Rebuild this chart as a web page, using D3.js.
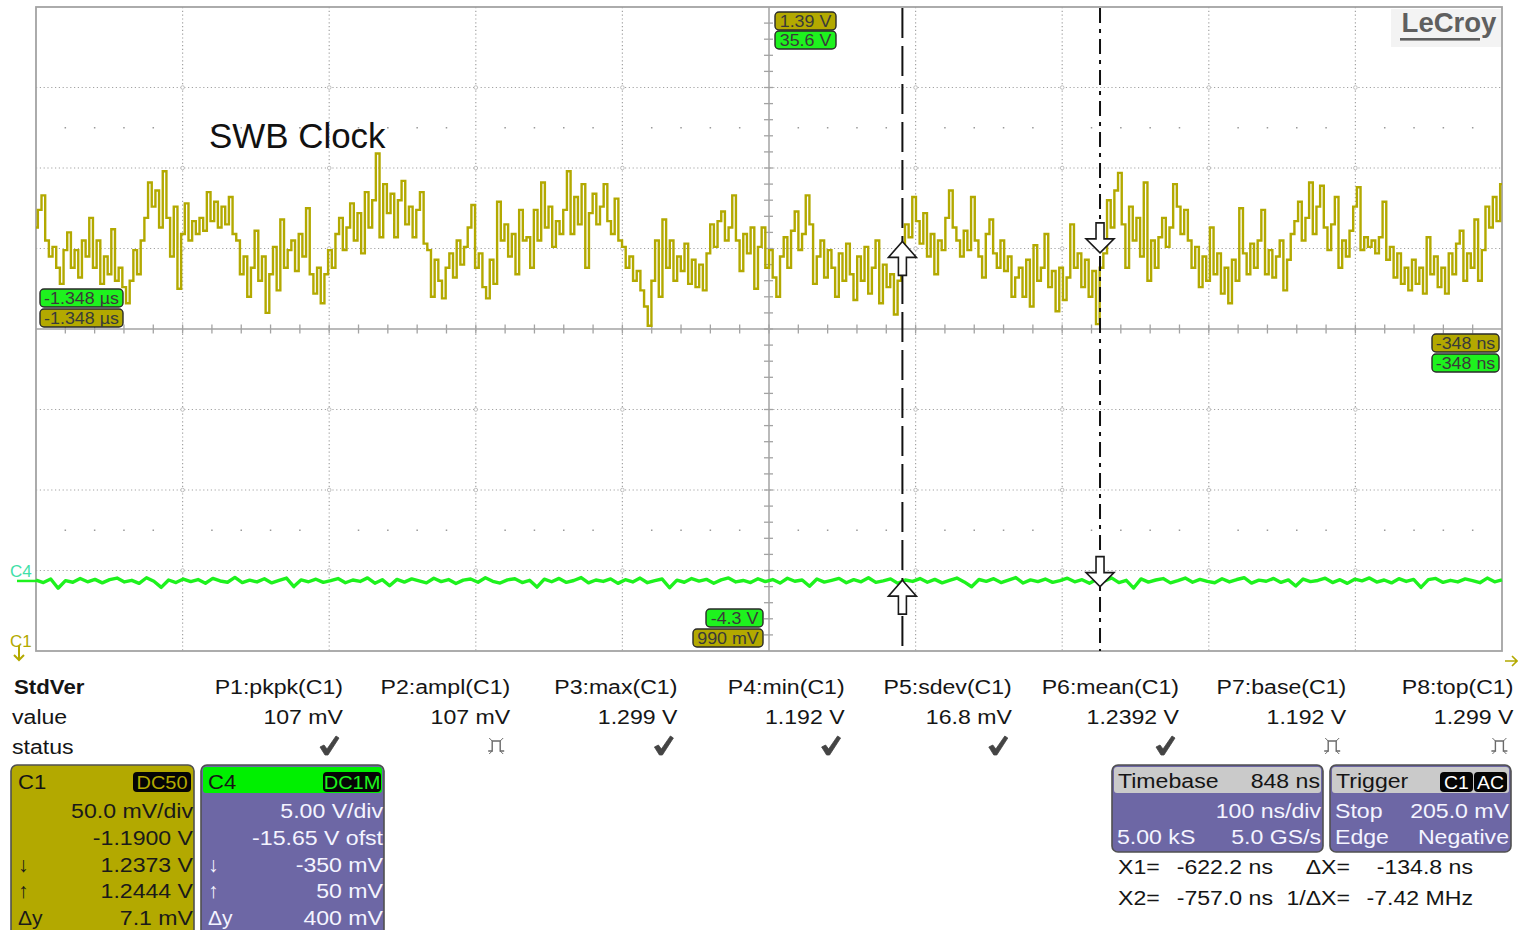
<!DOCTYPE html>
<html>
<head>
<meta charset="utf-8">
<script src="https://cdn.jsdelivr.net/npm/d3@7"></script>
<style>
  html, body { margin: 0; padding: 0; background: #fff; }
  svg { display: block; font-family: "Liberation Sans", Arial, sans-serif; }
</style>
</head>
<body>
<svg id="scope" width="1518" height="930"></svg>
<script>
// ---------- acquisition settings ----------
const timeWindow = [-1348, -348];      // ns at left / right edge of the graticule
const timePerDiv = 100;                // ns/div
const c1Setup = { perDiv: 50, center: 1190 };   // mV/div, mV at screen centre
const c4Setup = { perDiv: 5, center: 15.65 };   // V/div,  V at screen centre

// ---------- C1 record (mV), SWB clock ----------
const c1Millivolts = [
  1253,1264,1273,1245,1235,1241,1228,1218,1239,1250,
  1228,1239,1222,1245,1235,1259,1228,1245,1218,1235,
  1224,1252,1220,1228,1216,1206,1220,1239,1224,1245,
  1259,1281,1266,1276,1253,1288,1259,1235,1266,1215,
  1249,1268,1245,1257,1249,1259,1251,1275,1257,1269,
  1253,1266,1255,1272,1249,1245,1224,1235,1210,1228,
  1251,1220,1235,1200,1224,1241,1214,1258,1228,1239,
  1245,1226,1249,1235,1265,1224,1212,1228,1206,1224,
  1239,1228,1249,1259,1239,1253,1268,1245,1262,1237,
  1275,1253,1270,1299,1247,1280,1262,1274,1247,1270,
  1282,1255,1266,1247,1264,1275,1243,1239,1210,1233,
  1220,1209,1228,1237,1222,1245,1230,1241,1253,1267,
  1228,1237,1216,1209,1233,1218,1269,1245,1255,1235,
  1249,1224,1264,1245,
  1247,1228,1264,1245,1281,1253,1266,1241,1257,1249,
  1264,1288,1249,1272,1255,1280,1228,1262,1274,1255,
  1266,1280,1257,1249,1271,1245,1241,1228,1235,1220,
  1226,1214,1204,1192,1220,1245,1210,1258,1228,1245,
  1220,1235,1226,1243,1218,1233,1216,1230,1214,1237,
  1255,1241,1257,1263,1245,1253,1273,1245,1226,1249,
  1237,1253,1215,1241,1253,1228,1239,1222,1210,1235,
  1247,1228,1251,1263,1239,1249,1273,1255,1218,1235,
  1245,1222,1239,1228,1210,1237,1220,1243,1224,1208,
  1235,1220,1241,1212,1228,1245,1206,1230,1216,1224,
  1199,1220,1228,1255,1247,1272,1257,1243,1262,1235,
  1249,1224,1245,1239,1259,1276,1253,1245,1235,1251,
  1239,1272,1245,1235,1222,1249,1258,1237,1228,1245,
  1226,1235,1210,
  1222,1228,1210,1233,1204,1242,1220,1228,1249,1216,
  1226,1201,1228,1208,1222,1255,1228,1237,1216,1233,
  1210,1226,1193,1228,1237,1270,1253,1276,1287,1255,
  1228,1266,1245,1259,1235,1281,1220,1245,1228,1247,
  1259,1241,1253,1280,1266,1249,1264,1245,1228,1241,
  1216,1235,1220,1253,1224,1237,1212,1228,1206,1233,
  1220,1265,1237,1224,1243,1228,1245,1264,1224,1239,
  1222,1235,1245,1214,1233,1249,1257,1269,1245,1259,
  1281,1249,1266,1279,1253,1239,1255,1272,1228,1245,
  1235,1251,1266,1278,1239,1247,1241,1245,1237,1247,
  1269,1233,1241,1222,1237,1218,1228,1214,1233,1218,
  1228,1212,1247,1224,1235,1216,1228,1212,1237,1224,
  1243,1251,1220,1237,1228,1258,1220,1239,1266,1253,
  1272,1257,1280
];

// ---------- C4 record (V) ----------
const c4Volts = [
  0.05,-0.10,0.12,-0.45,0.02,-0.08,0.15,-0.05,0.10,-0.12,0.08,0.18,-0.06,0.04,-0.15,0.20,-0.02,-0.40,0.06,-0.10,
  0.12,-0.04,0.09,-0.14,0.16,0.00,-0.08,0.22,-0.10,0.05,-0.06,0.14,-0.12,0.03,0.18,-0.35,0.07,-0.05,0.11,-0.09,
  0.02,0.15,-0.11,0.06,-0.03,0.19,-0.14,0.08,-0.30,0.10,-0.07,0.13,0.01,-0.12,0.17,-0.04,0.09,-0.16,0.05,0.12,
  -0.08,0.20,-0.02,-0.13,0.07,0.14,-0.10,0.04,-0.38,0.11,-0.05,0.16,-0.09,0.03,0.21,-0.12,0.06,-0.03,0.13,-0.15,
  0.08,-0.06,0.18,-0.11,0.02,0.12,-0.42,0.05,-0.08,0.15,-0.01,0.10,-0.14,0.07,0.19,-0.06,0.03,-0.10,0.14,-0.04,
  0.09,-0.13,0.17,-0.02,0.06,-0.33,0.12,-0.07,0.04,0.16,-0.11,0.08,-0.05,0.20,-0.09,0.01,0.13,-0.15,0.06,-0.03,
  0.15,-0.08,0.10,-0.12,0.03,0.18,-0.06,-0.36,0.09,-0.02,0.14,-0.10,0.05,0.21,-0.13,0.07,-0.04,0.12,-0.09,0.02,
  0.17,-0.05,0.08,-0.14,0.11,-0.01,0.19,-0.10,0.04,-0.44,0.13,-0.07,0.06,0.15,-0.12,0.02,0.18,-0.08,0.10,-0.03,
  -0.11,0.14,-0.06,0.09,0.20,-0.13,0.05,-0.02,0.16,-0.09,0.07,-0.31,0.12,-0.04,0.03,0.17,-0.10,0.08,-0.15,0.11,
  0.01,0.19,-0.07,0.06,-0.12,0.14,-0.03,0.10,-0.40,0.08,0.16,-0.09,0.04,-0.06,0.13,0.02,-0.11,0.18,-0.05,0.07
];

// ---------- cursors ----------
const cursorTimes = { x1: -622.2, x2: -757.0 };      // ns
const cursorC1 = { x1: 1237.3, x2: 1244.4 };         // mV
const cursorC4 = { x1: -0.35, x2: 0.05 };            // V

// ---------- measurement table ----------
const paramNames  = ["P1:pkpk(C1)", "P2:ampl(C1)", "P3:max(C1)", "P4:min(C1)", "P5:sdev(C1)", "P6:mean(C1)", "P7:base(C1)", "P8:top(C1)"];
const paramValues = ["107 mV", "107 mV", "1.299 V", "1.192 V", "16.8 mV", "1.2392 V", "1.192 V", "1.299 V"];
const paramStatus = ["ok", "pulse", "ok", "ok", "ok", "ok", "pulse", "pulse"];

// ---------- channel / timebase descriptors ----------
const c1PanelRows = [["", "50.0 mV/div"], ["", "-1.1900 V"], ["↓", "1.2373 V"], ["↑", "1.2444 V"], ["Δy", "7.1 mV"]];
const c4PanelRows = [["", "5.00 V/div"], ["", "-15.65 V ofst"], ["↓", "-350 mV"], ["↑", "50 mV"], ["Δy", "400 mV"]];
const timebaseRows = [["", "100 ns/div"], ["5.00 kS", "5.0 GS/s"]];
const triggerRows  = [["Stop", "205.0 mV"], ["Edge", "Negative"]];
const cursorReadout = [["X1=", "-622.2 ns", "ΔX=", "-134.8 ns"], ["X2=", "-757.0 ns", "1/ΔX=", "-7.42 MHz"]];

// ---------- colours ----------
const OLIVE = "#b3a900", GREEN = "#1ef21e", PURPLE = "#6d67a5", GRID = "#a3a3a3";

const svg = d3.select("#scope");
const plot = { left: 36, right: 1502, top: 7, bottom: 651 };

const x = d3.scaleLinear().domain(timeWindow).range([plot.left, plot.right]);
const yC1 = d3.scaleLinear()
  .domain([c1Setup.center - 4 * c1Setup.perDiv, c1Setup.center + 4 * c1Setup.perDiv])
  .range([plot.bottom, plot.top]);
const yC4 = d3.scaleLinear()
  .domain([c4Setup.center - 4 * c4Setup.perDiv, c4Setup.center + 4 * c4Setup.perDiv])
  .range([plot.bottom, plot.top]);

// text helper: slightly widened sans to match the instrument font
function txt(g, px, py, s, o = {}) {
  const t = g.append("text")
    .attr("transform", `translate(${px},${py}) scale(${o.sx ?? 1.1},1)`)
    .attr("text-anchor", o.anchor || "start")
    .attr("font-size", o.size || 21)
    .attr("font-weight", o.weight || "normal")
    .attr("fill", o.fill || "#151515")
    .text(s);
  if (o.family) t.attr("font-family", o.family);
  return t;
}

// ---------- graticule ----------
const grid = svg.append("g");
const divTimes = d3.range(1, 10).map(k => timeWindow[0] + k * timePerDiv);
const centerTime = timeWindow[0] + 5 * timePerDiv;
const divLevels = d3.range(-3, 4).map(j => c1Setup.center + j * c1Setup.perDiv);

grid.selectAll("line.v").data(divTimes.filter(t => t !== centerTime)).join("line")
  .attr("x1", d => x(d)).attr("x2", d => x(d))
  .attr("y1", plot.top).attr("y2", plot.bottom)
  .attr("stroke", GRID).attr("stroke-width", 1.2).attr("stroke-dasharray", "1.2,2.6");
grid.selectAll("line.h").data(divLevels.filter(v => v !== c1Setup.center)).join("line")
  .attr("x1", plot.left).attr("x2", plot.right)
  .attr("y1", d => yC1(d)).attr("y2", d => yC1(d))
  .attr("stroke", GRID).attr("stroke-width", 1.2).attr("stroke-dasharray", "1.2,2.6");

// rows of sub-division dots
const subTimes = d3.range(1, 50).map(k => timeWindow[0] + k * timePerDiv / 5).filter((t, i) => (i + 1) % 5 !== 0);
[c1Setup.center + 2.5 * c1Setup.perDiv, c1Setup.center - 2.5 * c1Setup.perDiv].forEach(v => {
  grid.append("g").selectAll("rect").data(subTimes).join("rect")
    .attr("x", d => x(d) - 0.75).attr("y", yC1(v) - 0.75)
    .attr("width", 1.5).attr("height", 1.5).attr("fill", "#9a9a9a");
});

// small circles at graticule crossings
const crossings = [];
divTimes.filter(t => t !== centerTime).forEach(t =>
  divLevels.filter(v => v !== c1Setup.center).forEach(v => crossings.push([t, v])));
grid.selectAll("circle").data(crossings).join("circle")
  .attr("cx", d => x(d[0])).attr("cy", d => yC1(d[1])).attr("r", 1.8)
  .attr("fill", "#fff").attr("stroke", "#b0b0b0").attr("stroke-width", 0.8);

// centre axes with minor ticks
grid.append("line").attr("x1", plot.left).attr("x2", plot.right)
  .attr("y1", yC1(c1Setup.center)).attr("y2", yC1(c1Setup.center))
  .attr("stroke", GRID).attr("stroke-width", 1.5);
grid.append("line").attr("x1", x(centerTime)).attr("x2", x(centerTime))
  .attr("y1", plot.top).attr("y2", plot.bottom)
  .attr("stroke", GRID).attr("stroke-width", 1.5);
const hTicks = d3.range(1, 50).map(k => timeWindow[0] + k * timePerDiv / 5);
grid.append("g").selectAll("line").data(hTicks).join("line")
  .attr("x1", d => x(d)).attr("x2", d => x(d))
  .attr("y1", yC1(c1Setup.center) - 4.5).attr("y2", yC1(c1Setup.center) + 4.5)
  .attr("stroke", GRID).attr("stroke-width", 1.3);
const vTicks = d3.range(1, 40).map(k => yC1.domain()[0] + k * c1Setup.perDiv / 5);
grid.append("g").selectAll("line").data(vTicks).join("line")
  .attr("x1", x(centerTime) - 5).attr("x2", x(centerTime) + 4)
  .attr("y1", d => yC1(d)).attr("y2", d => yC1(d))
  .attr("stroke", GRID).attr("stroke-width", 1.3);

// frame
svg.append("rect").attr("x", plot.left).attr("y", plot.top)
  .attr("width", plot.right - plot.left).attr("height", plot.bottom - plot.top)
  .attr("fill", "none").attr("stroke", GRID).attr("stroke-width", 1.8);

// LeCroy mark
svg.append("rect").attr("x", 1391).attr("y", 9).attr("width", 110).attr("height", 38).attr("fill", "#f3f3f3");
txt(svg, 1449, 32, "LeCroy", { anchor: "middle", size: 27, weight: "bold", fill: "#5f5f5f", sx: 1.02 });
svg.append("rect").attr("x", 1400).attr("y", 38).attr("width", 80).attr("height", 2.6).attr("fill", "#5f5f5f");

// ---------- traces ----------
const c1Step = (timeWindow[1] - timeWindow[0]) / (c1Millivolts.length - 1);
const c4Step = (timeWindow[1] - timeWindow[0]) / (c4Volts.length - 1);

svg.append("path")
  .datum(c4Volts)
  .attr("fill", "none").attr("stroke", GREEN).attr("stroke-width", 3.4)
  .attr("stroke-linejoin", "round")
  .attr("d", d3.line()
    .x((d, i) => x(timeWindow[0] + i * c4Step)).y(d => yC4(d)));

svg.append("path")
  .datum(c1Millivolts)
  .attr("fill", "none").attr("stroke", OLIVE).attr("stroke-width", 2.4)
  .attr("d", d3.line().curve(d3.curveStep)
    .x((d, i) => x(timeWindow[0] + i * c1Step)).y(d => yC1(d)));

// ground markers at the left edge
txt(svg, 10, 577, "C4", { size: 17, fill: "#3fe0a8", sx: 1 });
svg.append("line").attr("x1", 17).attr("x2", plot.left).attr("y1", yC4(0)).attr("y2", yC4(0))
  .attr("stroke", GREEN).attr("stroke-width", 2.5);
txt(svg, 10, 647, "C1", { size: 17, fill: OLIVE, sx: 1 });
svg.append("path").attr("d", "M19,646 V660 M14,655 L19,660 L24,655")
  .attr("fill", "none").attr("stroke", OLIVE).attr("stroke-width", 2);
svg.append("path").attr("d", "M1505,661 H1517 M1512,656 L1517,661 L1512,666")
  .attr("fill", "none").attr("stroke", OLIVE).attr("stroke-width", 1.6);

// ---------- cursors ----------
const xc1 = x(cursorTimes.x1), xc2 = x(cursorTimes.x2);
svg.append("line").attr("x1", xc2).attr("x2", xc2).attr("y1", plot.top + 1).attr("y2", plot.bottom)
  .attr("stroke", "#111").attr("stroke-width", 2).attr("stroke-dasharray", "30,8");
svg.append("line").attr("x1", xc1).attr("x2", xc1).attr("y1", plot.top + 1).attr("y2", plot.bottom)
  .attr("stroke", "#111").attr("stroke-width", 2).attr("stroke-dasharray", "15,6,4,6");

const upArrow = "M0,0 L14,16 L4,16 L4,34 L-4,34 L-4,16 L-14,16 Z";
const downArrow = "M0,0 L14,-14 L4,-14 L4,-30 L-4,-30 L-4,-14 L-14,-14 Z";
function arrow(px, py, d) {
  svg.append("path").attr("transform", `translate(${px},${py})`).attr("d", d)
    .attr("fill", "#fff").attr("stroke", "#1a1a1a").attr("stroke-width", 1.6);
}
arrow(xc2, yC1(cursorC1.x2), upArrow);
arrow(xc1, yC1(cursorC1.x1), downArrow);
arrow(xc2, yC4(cursorC4.x2), upArrow);
arrow(xc1, yC4(cursorC4.x1), downArrow);

// ---------- edge badges ----------
function badge(bx, by, w, fill, label) {
  const g = svg.append("g");
  g.append("rect").attr("x", bx).attr("y", by).attr("width", w).attr("height", 18).attr("rx", 4)
    .attr("fill", fill).attr("stroke", "#2a2a2a").attr("stroke-width", 1.4);
  txt(g, bx + w / 2, by + 15, label, { anchor: "middle", size: 17, fill: "#3a3a3a", sx: 1.05 });
}
const xMid = x(centerTime);
badge(xMid + 6, plot.top + 5, 61, OLIVE, d3.format(".2f")(yC1.domain()[1] / 1000) + " V");
badge(xMid + 6, plot.top + 24, 61, GREEN, d3.format(".1f")(Math.floor(yC4.domain()[1] * 10) / 10) + " V");
badge(plot.left + 4, 289, 83, GREEN, (timeWindow[0] / 1000).toFixed(3) + " µs");
badge(plot.left + 4, 309, 83, OLIVE, (timeWindow[0] / 1000).toFixed(3) + " µs");
badge(plot.right - 70, 334, 67, OLIVE, timeWindow[1] + " ns");
badge(plot.right - 70, 354, 67, GREEN, timeWindow[1] + " ns");
badge(xMid - 63, 609, 57, GREEN, (Math.ceil(yC4.domain()[0] * 10) / 10).toFixed(1) + " V");
badge(xMid - 76, 629, 70, OLIVE, yC1.domain()[0] + " mV");

// annotation
txt(svg, 209, 148, "SWB Clock", { size: 36, fill: "#111", sx: 0.97 });

// ---------- measurement table ----------
const table = svg.append("g");
const colRight = d3.range(8).map(i => 343 + i * 167.2);
const rowBase = [694, 724, 754];
txt(table, 14, rowBase[0], "StdVer", { weight: "bold", sx: 1.06 });
txt(table, 12, rowBase[1], "value");
txt(table, 12, rowBase[2], "status");
paramNames.forEach((n, i) => txt(table, colRight[i], rowBase[0], n, { anchor: "end" }));
paramValues.forEach((v, i) => txt(table, colRight[i], rowBase[1], v, { anchor: "end" }));
paramStatus.forEach((s, i) => {
  const cx = colRight[i] - 14, cy = rowBase[2] - 8;
  if (s === "ok") {
    table.append("path").attr("transform", `translate(${cx},${cy})`)
      .attr("d", "M-9,1 L-5,-1 L-2,3 L7,-10 L10,-8 L-1,9 L-4,9 Z")
      .attr("fill", "#444").attr("stroke", "#444").attr("stroke-width", 0.8);
  } else {
    const g = table.append("g").attr("transform", `translate(${cx},${cy})`)
      .attr("fill", "none").attr("stroke", "#6a6a6a").attr("stroke-width", 1.4);
    g.append("path").attr("d", "M-8,5 H-4 V-5 H4 V5 H8");
    g.append("path").attr("d", "M-7,-8 L-4,-5 M7,-8 L4,-5 M-7,8 L-4,5 M7,8 L4,5").attr("stroke-width", 1);
  }
});

// ---------- channel descriptor boxes ----------
function channelBox(bx, fill, headFill, name, coupling, couplingColor, rows, textColor) {
  const g = svg.append("g");
  g.append("rect").attr("x", bx).attr("y", 765).attr("width", 183).attr("height", 180).attr("rx", 6)
    .attr("fill", fill).attr("stroke", "#505050").attr("stroke-width", 1.6);
  if (headFill) g.append("rect").attr("x", bx + 2).attr("y", 767).attr("width", 179).attr("height", 26)
    .attr("rx", 3).attr("fill", headFill);
  txt(g, bx + 7, 789, name, { size: 21, sx: 1.05 });
  const bw = coupling.length * 13 + 6;
  g.append("rect").attr("x", bx + 180 - bw).attr("y", 772).attr("width", bw).attr("height", 20).attr("rx", 4).attr("fill", "#050505");
  txt(g, bx + 180 - bw / 2, 789, coupling, { anchor: "middle", size: 19, fill: couplingColor, sx: 1.05 });
  rows.forEach((r, i) => {
    const by = 818 + i * 26.8;
    if (r[0]) txt(g, bx + 7, by, r[0], { fill: textColor, sx: 1 });
    txt(g, bx + 182, by, r[1], { anchor: "end", fill: textColor });
  });
}
channelBox(11, OLIVE, null, "C1", "DC50", OLIVE, c1PanelRows, "#1a1a1a");
channelBox(201, PURPLE, "#00f000", "C4", "DC1M", GREEN, c4PanelRows, "#f4f4ff");

// ---------- timebase / trigger boxes ----------
function infoBox(bx, w, title, rightHead, rows) {
  const g = svg.append("g");
  g.append("rect").attr("x", bx).attr("y", 765).attr("width", w).attr("height", 87).attr("rx", 6)
    .attr("fill", PURPLE).attr("stroke", "#505050").attr("stroke-width", 1.6);
  g.append("rect").attr("x", bx + 2).attr("y", 767).attr("width", w - 4).attr("height", 26).attr("rx", 3)
    .attr("fill", "#cacaca");
  txt(g, bx + 6, 788, title, { size: 21 });
  rightHead(g);
  rows.forEach((r, i) => {
    const by = 818 + i * 25.5;
    if (r[0]) txt(g, bx + 5, by, r[0], { fill: "#f4f4ff" });
    txt(g, bx + w - 2, by, r[1], { anchor: "end", fill: "#f4f4ff" });
  });
  return g;
}
infoBox(1112, 211, "Timebase", g => txt(g, 1320, 788, "848 ns", { anchor: "end" }), timebaseRows);
infoBox(1330, 181, "Trigger", g => {
  [["C1", 1440], ["AC", 1474]].forEach(([s, bx]) => {
    g.append("rect").attr("x", bx).attr("y", 772).attr("width", 33).attr("height", 20).attr("rx", 4).attr("fill", "#050505");
    txt(g, bx + 16.5, 789, s, { anchor: "middle", size: 19, fill: "#fff", sx: 1.02 });
  });
}, triggerRows);

// ---------- cursor readout ----------
cursorReadout.forEach((r, i) => {
  const by = 874 + i * 30.5;
  txt(svg, 1118, by, r[0]);
  txt(svg, 1273, by, r[1], { anchor: "end" });
  txt(svg, 1350, by, r[2], { anchor: "end" });
  txt(svg, 1473, by, r[3], { anchor: "end" });
});
</script>
</body>
</html>
